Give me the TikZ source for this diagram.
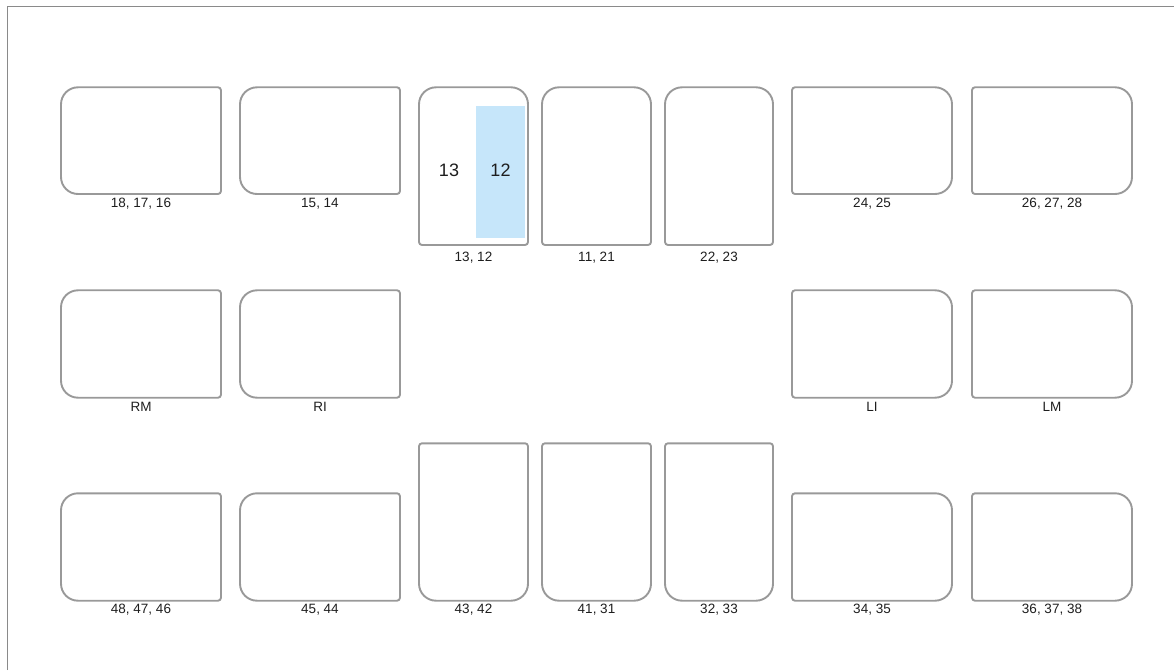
\documentclass[tikz,border=0pt]{standalone}
\usepackage{fontspec}
\setmainfont{Liberation Sans}
\definecolor{toothgray}{HTML}{999999}
\definecolor{framegray}{HTML}{8A8A8A}
\definecolor{selblue}{HTML}{C6E6FA}
\definecolor{txt}{HTML}{1E1E1E}
\tikzset{
  toothline/.style={draw=toothgray, line width=1.9pt, fill=white},
  framestyle/.style={draw=framegray, line width=1.4pt},
  toothlabel/.style={text=txt, font=\fontsize{13.5}{15}\selectfont, inner sep=0pt},
  bignum/.style={text=txt, font=\fontsize{18}{21}\selectfont, inner sep=0pt},
}
% #1 x1, #2 ytop, #3 x2, #4 ybot (pixels from top), #5 rTL, #6 rTR, #7 rBR, #8 rBL
\newcommand\toothbox[8]{%
  \draw[toothline] ({#1},{670-#2-#5}) arc (180:90:#5) -- ({#3-#6},{670-#2})
    arc (90:0:#6) -- ({#3},{670-#4+#7}) arc (0:-90:#7) -- ({#1+#8},{670-#4})
    arc (-90:-180:#8) -- cycle;}
\begin{document}
\begin{tikzpicture}[x=1pt,y=1pt]
\useasboundingbox (0,0) rectangle (1174,670);
% frame (left and top only)
\draw[framestyle] (7.3,0) -- (7.3,663.7) -- (1174,663.7);

% ---- top row ----
\toothbox{61}{87.3}{221}{194}{17}{3}{3}{17}
\toothbox{240}{87.3}{400}{194}{17}{3}{3}{17}
\toothbox{419}{87.3}{528}{245}{17}{17}{3}{3}
\fill[selblue] (476.3,{670-106}) rectangle (524.7,{670-237.7});
\toothbox{542}{87.3}{651}{245}{17}{17}{3}{3}
\toothbox{665}{87.3}{773}{245}{17}{17}{3}{3}
\toothbox{792}{87.3}{952}{194}{3}{17}{17}{3}
\toothbox{972}{87.3}{1132}{194}{3}{17}{17}{3}

\node[bignum] (n13) at (449,{670-170}) {13};
\node[bignum] (n12) at (500.5,{670-170}) {12};

\node[toothlabel] (l18) at (141,{670-203.3}) {18, 17, 16};
\node[toothlabel] (l15) at (320,{670-203.3}) {15, 14};
\node[toothlabel] (l13) at (473.5,{670-257.7}) {13, 12};
\node[toothlabel] (l11) at (596.5,{670-257.7}) {11, 21};
\node[toothlabel] (l22) at (719,{670-257.7}) {22, 23};
\node[toothlabel] (l24) at (872,{670-203.3}) {24, 25};
\node[toothlabel] (l26) at (1052,{670-203.3}) {26, 27, 28};

% ---- middle row ----
\toothbox{61}{290.3}{221}{397.7}{17}{3}{3}{17}
\toothbox{240}{290.3}{400}{397.7}{17}{3}{3}{17}
\toothbox{792}{290.3}{952}{397.7}{3}{17}{17}{3}
\toothbox{972}{290.3}{1132}{397.7}{3}{17}{17}{3}

\node[toothlabel] (lRM) at (141,{670-406.7}) {RM};
\node[toothlabel] (lRI) at (320,{670-406.7}) {RI};
\node[toothlabel] (lLI) at (872,{670-406.7}) {LI};
\node[toothlabel] (lLM) at (1052,{670-406.7}) {LM};

% ---- bottom row ----
\toothbox{61}{493.3}{221}{600.7}{17}{3}{3}{17}
\toothbox{240}{493.3}{400}{600.7}{17}{3}{3}{17}
\toothbox{419}{443.3}{528}{600.7}{3}{3}{17}{17}
\toothbox{542}{443.3}{651}{600.7}{3}{3}{17}{17}
\toothbox{665}{443.3}{773}{600.7}{3}{3}{17}{17}
\toothbox{792}{493.3}{952}{600.7}{3}{17}{17}{3}
\toothbox{972}{493.3}{1132}{600.7}{3}{17}{17}{3}

\node[toothlabel] (l48) at (141,{670-609.5}) {48, 47, 46};
\node[toothlabel] (l45) at (320,{670-609.5}) {45, 44};
\node[toothlabel] (l43) at (473.5,{670-610}) {43, 42};
\node[toothlabel] (l41) at (596.5,{670-610}) {41, 31};
\node[toothlabel] (l32) at (719,{670-610}) {32, 33};
\node[toothlabel] (l34) at (872,{670-609.5}) {34, 35};
\node[toothlabel] (l36) at (1052,{670-609.5}) {36, 37, 38};
\end{tikzpicture}
\end{document}
